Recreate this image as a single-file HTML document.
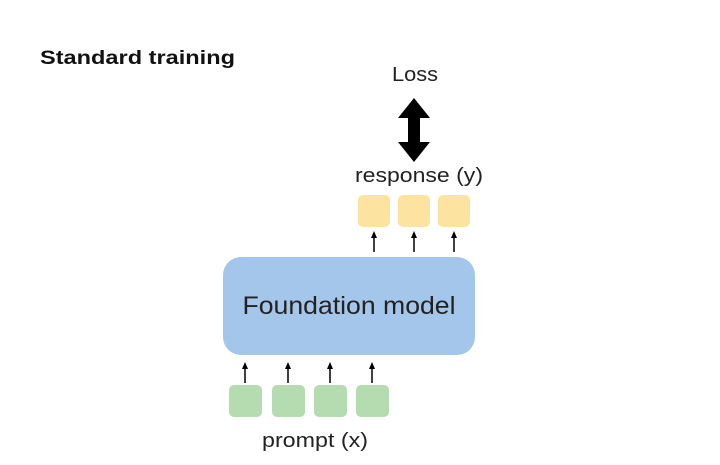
<!DOCTYPE html>
<html><head><style>
body{margin:0;background:#fff;width:720px;height:460px;overflow:hidden;font-family:"Liberation Sans",sans-serif;}
</style></head><body>
<svg width="720" height="460" xmlns="http://www.w3.org/2000/svg" font-family="Liberation Sans, sans-serif">
<text x="40" y="64" font-size="19" font-weight="bold" fill="#111" textLength="195" lengthAdjust="spacingAndGlyphs">Standard training</text>
<text x="415" y="81" font-size="20" fill="#222" text-anchor="middle" textLength="46" lengthAdjust="spacingAndGlyphs">Loss</text>
<polygon points="414,98 430,118 420,118 420,142 430,142 414,162 398,142 408,142 408,118 398,118" fill="#000"/>
<text x="419" y="182" font-size="20" fill="#222" text-anchor="middle" textLength="128" lengthAdjust="spacingAndGlyphs">response (y)</text>
<g fill="#fde3a0">
<rect x="358" y="195" width="32" height="32" rx="5"/>
<rect x="398" y="195" width="32" height="32" rx="5"/>
<rect x="438" y="195" width="32" height="32" rx="5"/>
</g>
<g stroke="#000" stroke-width="1.5">
<line x1="374" y1="252" x2="374" y2="236"/><line x1="414" y1="252" x2="414" y2="236"/><line x1="454" y1="252" x2="454" y2="236"/>
<line x1="245" y1="383" x2="245" y2="367"/><line x1="288" y1="383" x2="288" y2="367"/><line x1="330" y1="383" x2="330" y2="367"/><line x1="372" y1="383" x2="372" y2="367"/>
</g>
<g fill="#000">
<polygon points="374,231 371,238 377,238"/><polygon points="414,231 411,238 417,238"/><polygon points="454,231 451,238 457,238"/>
<polygon points="245,362 242,369 248,369"/><polygon points="288,362 285,369 291,369"/><polygon points="330,362 327,369 333,369"/><polygon points="372,362 369,369 375,369"/>
</g>
<rect x="223" y="257" width="252" height="98" rx="18" fill="#a4c6ea"/>
<text x="349" y="314" font-size="25" fill="#222" text-anchor="middle" textLength="213" lengthAdjust="spacingAndGlyphs">Foundation model</text>
<g fill="#b5dbb0">
<rect x="229" y="385" width="33" height="32" rx="5"/>
<rect x="272" y="385" width="33" height="32" rx="5"/>
<rect x="314" y="385" width="33" height="32" rx="5"/>
<rect x="356" y="385" width="33" height="32" rx="5"/>
</g>
<text x="315" y="447" font-size="20" fill="#222" text-anchor="middle" textLength="106" lengthAdjust="spacingAndGlyphs">prompt (x)</text>
</svg>
</body></html>
